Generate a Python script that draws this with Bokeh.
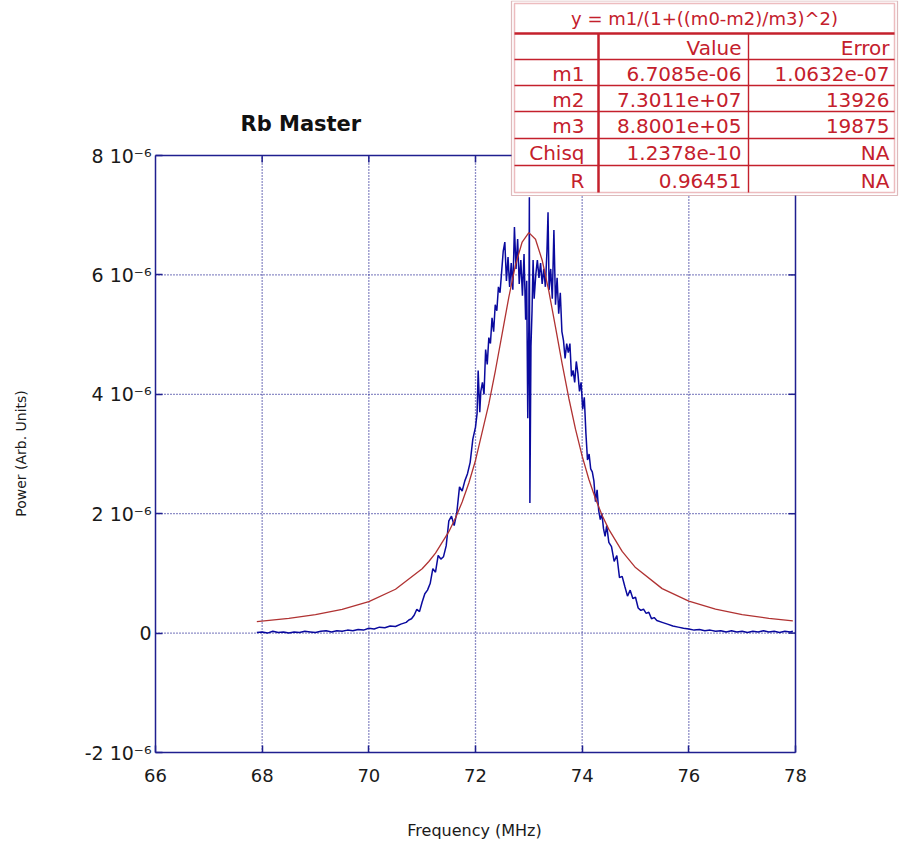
import math
from bokeh.plotting import figure
from bokeh.models import (FixedTicker, Label, BoxAnnotation, Range1d)
from bokeh.embed import file_html
from bokeh.resources import INLINE

# ---------------- data (power in units of 1e-6) ----------------
freq = [67.90, 68.00, 68.10, 68.20, 68.30, 68.40, 68.50, 68.60, 68.70, 68.80,
        68.90, 69.00, 69.10, 69.20, 69.30, 69.40, 69.50, 69.60, 69.70, 69.80,
        69.90, 70.00, 70.10, 70.20, 70.30, 70.40, 70.50, 70.60, 70.70, 70.75,
        70.80, 70.85, 70.90, 70.95, 71.00, 71.05, 71.10, 71.15, 71.20, 71.25,
        71.30, 71.35, 71.40, 71.45, 71.50, 71.55, 71.60, 71.65, 71.70, 71.75,
        71.80, 71.85, 71.90, 71.95, 72.00, 72.03, 72.05, 72.08, 72.10, 72.13,
        72.16, 72.19, 72.22, 72.25, 72.28, 72.31, 72.34, 72.37, 72.40, 72.43,
        72.46, 72.49, 72.52, 72.55, 72.58, 72.61, 72.64, 72.67, 72.70, 72.73,
        72.76, 72.79, 72.82, 72.85, 72.88, 72.91, 72.94, 72.96, 72.98, 73.00,
        73.01, 73.02, 73.04, 73.06, 73.08, 73.10, 73.13, 73.16, 73.19, 73.22,
        73.25, 73.28, 73.31, 73.34, 73.36, 73.38, 73.41, 73.44, 73.47, 73.50,
        73.53, 73.56, 73.59, 73.62, 73.65, 73.68, 73.71, 73.74, 73.77, 73.80,
        73.83, 73.86, 73.89, 73.92, 73.95, 73.98, 74.01, 74.04, 74.07, 74.10,
        74.13, 74.16, 74.19, 74.22, 74.25, 74.28, 74.31, 74.34, 74.37, 74.40,
        74.43, 74.46, 74.50, 74.55, 74.60, 74.65, 74.70, 74.75, 74.80, 74.85,
        74.90, 74.95, 75.00, 75.05, 75.10, 75.15, 75.20, 75.25, 75.30, 75.35,
        75.40, 75.50, 75.60, 75.70, 75.80, 75.90, 76.00, 76.10, 76.20, 76.30,
        76.40, 76.50, 76.60, 76.70, 76.80, 76.90, 77.00, 77.10, 77.20, 77.30,
        77.40, 77.50, 77.60, 77.70, 77.80, 77.90, 77.95]
power = [0.01, 0.02, 0.00, 0.03, 0.01, 0.02, 0.00, 0.02, 0.01, 0.03,
         0.02, 0.01, 0.03, 0.04, 0.02, 0.04, 0.03, 0.05, 0.04, 0.06,
         0.05, 0.08, 0.07, 0.10, 0.09, 0.12, 0.11, 0.15, 0.18, 0.22,
         0.24, 0.30, 0.40, 0.36, 0.52, 0.66, 0.72, 0.83, 1.08, 1.02,
         1.30, 1.24, 1.28, 1.46, 1.88, 1.96, 1.80, 2.02, 2.45, 2.38,
         2.55, 2.67, 2.86, 3.25, 3.45, 3.68, 4.40, 3.70, 4.05, 4.20,
         4.00, 4.75, 4.50, 4.95, 4.85, 5.28, 5.05, 5.50, 5.40, 5.80,
         5.70, 6.05, 6.40, 6.55, 5.90, 6.30, 5.80, 6.20, 5.75, 6.80,
         6.10, 6.60, 5.85, 6.25, 5.65, 6.35, 5.25, 5.90, 3.60, 5.10,
         7.30, 2.18, 4.80, 5.40, 6.25, 5.60, 6.00, 6.25, 5.95, 6.20,
         5.85, 6.10, 5.80, 6.40, 7.05, 5.75, 6.10, 5.60, 6.75, 5.50,
         5.95, 5.35, 5.70, 5.05, 4.90, 4.60, 4.85, 4.70, 4.85, 4.30,
         4.40, 4.20, 4.55, 4.35, 4.05, 4.20, 3.75, 3.95, 3.35, 2.90,
         3.00, 2.75, 2.70, 2.55, 2.20, 2.40, 2.05, 1.90, 2.00, 1.75,
         1.62, 1.80, 1.52, 1.45, 1.20, 1.30, 0.93, 0.95, 0.78, 0.62,
         0.72, 0.58, 0.60, 0.42, 0.38, 0.40, 0.33, 0.35, 0.24, 0.26,
         0.21, 0.18, 0.15, 0.12, 0.10, 0.08, 0.07, 0.05, 0.06, 0.04,
         0.05, 0.03, 0.04, 0.02, 0.04, 0.02, 0.03, 0.01, 0.03, 0.02,
         0.04, 0.02, 0.03, 0.01, 0.03, 0.02, 0.03]

fit_freq = [67.9, 68.5, 69.0, 69.5, 70.0, 70.5, 71.0, 71.125, 71.25, 71.5,
            71.625, 71.75, 71.875, 72.0, 72.25, 72.375, 72.5, 72.625, 72.75,
            72.875, 73.0, 73.125, 73.25, 73.375, 73.5, 73.625, 73.75, 73.875,
            74.0, 74.125, 74.25, 74.375, 74.5, 74.75, 75.0, 75.5, 76.0, 76.5,
            77.0, 77.5, 77.95]
fit_power = [0.193, 0.246, 0.308, 0.396, 0.528, 0.734, 1.078, 1.199, 1.340, 1.699,
             1.927, 2.197, 2.515, 2.892, 3.838, 4.407, 5.017, 5.626, 6.166,
             6.551, 6.708, 6.597, 6.246, 5.728, 5.125, 4.511, 3.934, 3.416,
             2.964, 2.577, 2.250, 1.971, 1.737, 1.368, 1.098, 0.745, 0.535, 0.401,
             0.311, 0.248, 0.206]

x_ticks = [66, 68, 70, 72, 74, 76, 78]
y_ticks = [-2, 0, 2, 4, 6, 8]
y_tick_labels = {-2: "-2 10\u207b\u2076", 0: "0", 2: "2 10\u207b\u2076",
                 4: "4 10\u207b\u2076", 6: "6 10\u207b\u2076", 8: "8 10\u207b\u2076"}

table_title = "y = m1/(1+((m0-m2)/m3)^2)"
table_header = ["", "Value", "Error"]
table_rows = [["m1", "6.7085e-06", "1.0632e-07"],
              ["m2", "7.3011e+07", "13926"],
              ["m3", "8.8001e+05", "19875"],
              ["Chisq", "1.2378e-10", "NA"],
              ["R", "0.96451", "NA"]]

# ---------------- styling ----------------
NAVY = "#1f1f8f"
BLUE = "#0a0a9e"
FITRED = "#b03232"
TRED = "#c4202c"
FONT = "DejaVu Sans"

W, H = 899, 850
BOX_L, BOX_B = 155, 752          # canvas position of the (66, -2) corner
PX_X = 640 / 12.0                # pixels per MHz
PX_Y = 597 / 10.0                # pixels per 1e-6
x0, x1 = x_ticks[0], x_ticks[-1]
y0, y1 = y_ticks[0], y_ticks[-1]
xs = x0 - BOX_L / PX_X
ys = y0 - (H - BOX_B) / PX_Y

p = figure(width=W, height=H, output_backend="svg", toolbar_location=None,
           x_range=Range1d(xs, xs + W / PX_X), y_range=Range1d(ys, ys + H / PX_Y),
           min_border=0)
p.title.visible = False
p.background_fill_color = "white"
p.border_fill_color = "white"
p.outline_line_color = None
p.xgrid.visible = False
p.ygrid.visible = False

for ax in (p.xaxis[0], p.yaxis[0]):
    ax.axis_line_color = NAVY
    ax.axis_line_width = 1.5
    ax.major_tick_line_color = NAVY
    ax.major_tick_line_width = 1.5
    ax.major_tick_in = 7
    ax.major_tick_out = 0
    ax.minor_tick_line_color = None
    ax.major_label_text_font = FONT
    ax.major_label_text_color = "#1a1a1a"

p.xaxis[0].ticker = FixedTicker(ticks=x_ticks)
p.yaxis[0].ticker = FixedTicker(ticks=y_ticks)
p.xaxis[0].bounds = (x0, x1)
p.yaxis[0].bounds = (y0, y1)
p.xaxis[0].fixed_location = y0
p.yaxis[0].fixed_location = x0
p.yaxis[0].major_label_overrides = y_tick_labels
p.xaxis[0].major_label_text_font_size = "18px"
p.yaxis[0].major_label_text_font_size = "19px"
p.xaxis[0].major_label_standoff = 16
p.yaxis[0].major_label_standoff = 4

# dotted grid inside the box
gx = x_ticks[1:-1]
gy = y_ticks[1:-1]
p.segment(x0=gx, y0=[y0] * len(gx), x1=gx, y1=[y1] * len(gx),
          line_color=NAVY, line_dash="1 2", line_width=1.3)
p.segment(x0=[x0] * len(gy), y0=gy, x1=[x1] * len(gy), y1=gy,
          line_color=NAVY, line_dash="1 2", line_width=1.3)

# top and right border with inward ticks
tick_dy = 7 / PX_Y
tick_dx = 7 / PX_X
p.segment(x0=[x0, x1], y0=[y1, y0], x1=[x1, x1], y1=[y1, y1],
          line_color=NAVY, line_width=1.5)
p.segment(x0=gx, y0=[y1] * len(gx), x1=gx, y1=[y1 - tick_dy] * len(gx),
          line_color=NAVY, line_width=1.5)
p.segment(x0=[x1] * len(gy), y0=gy, x1=[x1 - tick_dx] * len(gy), y1=gy,
          line_color=NAVY, line_width=1.5)

p.line(freq, power, line_color=BLUE, line_width=1.5)
p.line(fit_freq, fit_power, line_color=FITRED, line_width=1.3)

# texts (screen units measured from the bottom-left of the canvas frame)
p.add_layout(Label(x=240, y=H - 123, x_units="screen", y_units="screen", text="Rb Master",
                   text_font=FONT, text_font_size="21px", text_font_style="bold",
                   text_color="#111111", text_baseline="alphabetic"))
p.add_layout(Label(x=474, y=H - 830, x_units="screen", y_units="screen",
                   text="Frequency (MHz)", text_font=FONT, text_font_size="16px",
                   text_color="#1a1a1a", text_align="center", text_baseline="middle"))
p.add_layout(Label(x=20, y=H - 453, x_units="screen", y_units="screen",
                   text="Power (Arb. Units)", text_font=FONT, text_font_size="14px",
                   text_color="#1a1a1a", text_align="center", text_baseline="middle",
                   angle=math.pi / 2))

# ---------------- fit results table ----------------
col_x = [513, 598, 748, 895]
row_fig = [1, 33, 59, 85, 111, 138, 165, 193]
row_y = [H - v for v in row_fig]
tl, tr = col_x[0], col_x[-1]


def box(left, right, top, bottom, fill, line=None, lw=1.0):
    p.add_layout(BoxAnnotation(left=left, right=right, top=top, bottom=bottom,
                               left_units="screen", right_units="screen",
                               top_units="screen", bottom_units="screen",
                               fill_color=fill, fill_alpha=1.0 if fill else 0.0,
                               line_color=line, line_width=lw, level="overlay"))


box(tl - 2, tr + 2, row_y[0] + 0.5, row_y[-1] - 2, "white", "#8e1a22", 1.2)
box(tl + 1, tr - 1, row_y[0] - 2, row_y[-1] + 1, "white", TRED, 1.5)
box(tl + 1, tr - 1, row_y[1] + 1.25, row_y[1] - 1.25, TRED)
for yy in row_y[2:-1]:
    box(tl + 1, tr - 1, yy + 0.65, yy - 0.65, TRED)
box(col_x[1] - 1.25, col_x[1] + 1.25, row_y[1], row_y[-1] + 1, TRED)
box(col_x[2] - 0.7, col_x[2] + 0.7, row_y[1], row_y[-1] + 1, TRED)

p.add_layout(Label(x=(tl + tr) / 2, y=(row_y[0] + row_y[1]) / 2 - 1, x_units="screen",
                   y_units="screen", text=table_title, text_font=FONT,
                   text_font_size="18px", text_color=TRED, text_align="center",
                   text_baseline="middle", level="overlay"))
right_edges = [col_x[1] - 14, col_x[2] - 7, col_x[3] - 6]
rows = [table_header] + table_rows
for i, row in enumerate(rows):
    yc = (row_y[i + 1] + row_y[i + 2]) / 2 - 1
    for j, txt in enumerate(row):
        if not txt:
            continue
        p.add_layout(Label(x=right_edges[j], y=yc, x_units="screen", y_units="screen",
                           text=txt, text_font=FONT, text_font_size="20px",
                           text_color=TRED, text_align="right", text_baseline="middle",
                           level="overlay"))

open("out.html", "w").write(file_html(p, INLINE))
